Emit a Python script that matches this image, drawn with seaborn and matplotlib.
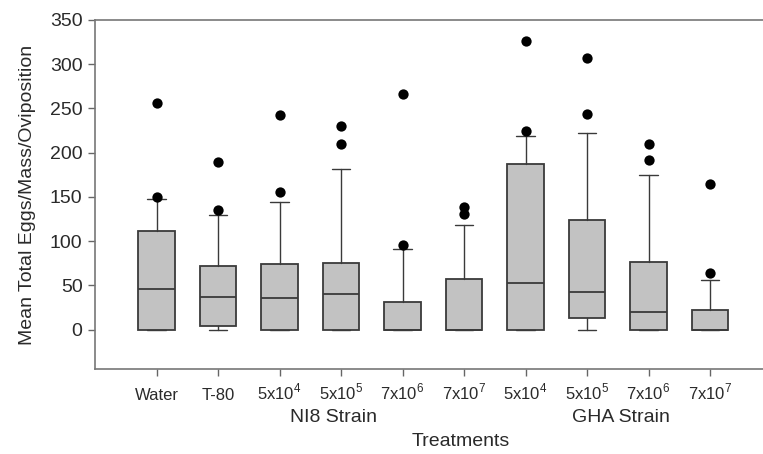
import matplotlib
matplotlib.use("Agg")
import matplotlib.pyplot as plt
import seaborn as sns
import pandas as pd
import numpy as np

# ---- data ----
tick_labels = ["Water", "T-80",
               "5x10$^\\mathregular{4}$", "5x10$^\\mathregular{5}$",
               "7x10$^\\mathregular{6}$", "7x10$^\\mathregular{7}$",
               "5x10$^\\mathregular{4}$", "5x10$^\\mathregular{5}$",
               "7x10$^\\mathregular{6}$", "7x10$^\\mathregular{7}$"]
q1 = [0, 3.8, 0, 0, 0, 0, 0, 12.8, 0, 0]
median = [46, 36.5, 35.4, 40.6, 0, 0, 52.7, 42.5, 20.3, 0]
q3 = [111, 72.3, 74.5, 75.6, 31.6, 56.8, 187.4, 123.8, 76.4, 21.8]
whisker_low = [0, 0, 0, 0, 0, 0, 0, 0, 0, 0]
whisker_high = [147.5, 129.5, 144.5, 181, 91.5, 117.8, 218.3, 222, 175, 56]
outliers = [[150, 256], [135, 189], [155, 243], [210, 230], [95, 266],
            [131, 139], [225, 326], [244, 307], [192, 210], [64, 164]]
group_labels = ["NI8 Strain", "GHA Strain"]

sns.set_style("white")
plt.rcParams['font.family'] = ['Liberation Sans', 'DejaVu Sans']
plt.rcParams['mathtext.fontset'] = 'custom'
plt.rcParams['mathtext.rm'] = 'Liberation Sans'

txt = "#2a2a2a"
fig = plt.figure(figsize=(7.63, 4.54), dpi=100)
ax = fig.add_axes([95 / 763, (454 - 369.3) / 454, 676.5 / 763, 349.3 / 454])

stats = []
for i in range(len(tick_labels)):
    stats.append(dict(med=median[i], q1=q1[i], q3=q3[i],
                      whislo=whisker_low[i], whishi=whisker_high[i], fliers=[]))

edge = "#3a3a3a"
ax.bxp(stats, positions=range(len(stats)), widths=0.6, capwidths=0.3,
       showfliers=False, patch_artist=True,
       boxprops=dict(facecolor="#c2c2c2", edgecolor=edge, linewidth=1.3),
       medianprops=dict(color=edge, linewidth=1.3),
       whiskerprops=dict(color=edge, linewidth=1.0),
       capprops=dict(color=edge, linewidth=1.0))

fx, fy = [], []
for i, vals in enumerate(outliers):
    for v in vals:
        fx.append(i)
        fy.append(v)
df = pd.DataFrame({"x": fx, "y": fy})
sns.scatterplot(data=df, x="x", y="y", ax=ax, color="black", s=55,
                edgecolor="black", linewidth=0, zorder=5)

ax.set_xlim(-1, 10)
ax.set_ylim(-45, 350)
ax.set_yticks(np.arange(0, 351, 50))
ax.set_xticks(range(len(tick_labels)))
ax.set_xticklabels(tick_labels, fontsize=12, color=txt)
ax.tick_params(axis='y', labelsize=14, labelcolor=txt, length=5, width=1,
               color="#666666", pad=4, left=True)
ax.tick_params(axis='x', length=5, width=1, color="#666666", pad=17, bottom=True)
for lab in ax.get_xticklabels():
    lab.set_va("baseline")
for s in ax.spines.values():
    s.set_color("#777777")
    s.set_linewidth(1.2)

ax.set_xlabel("")
ax.set_ylabel("Mean Total Eggs/Mass/Oviposition", fontsize=14, color=txt, labelpad=10)

trans = matplotlib.transforms.blended_transform_factory(ax.transData, fig.transFigure)
ax.text(2.88, (454 - 418) / 454, group_labels[0], transform=trans,
        ha="center", va="center", fontsize=14, color=txt)
ax.text(7.55, (454 - 418) / 454, group_labels[1], transform=trans,
        ha="center", va="center", fontsize=14, color=txt)
ax.text(4.95, (454 - 441) / 454, "Treatments", transform=trans,
        ha="center", va="center", fontsize=14, color=txt)

fig.savefig("out.png", dpi=100)
